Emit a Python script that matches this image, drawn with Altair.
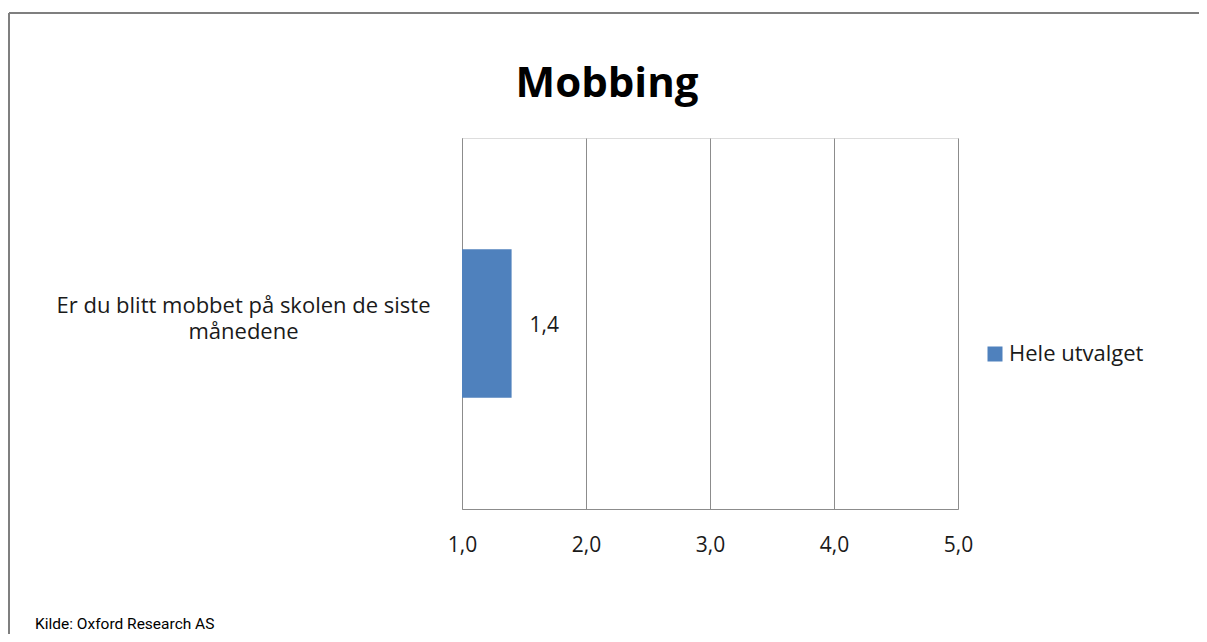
import altair as alt
import pandas as pd

categories = ["Er du blitt mobbet på skolen de siste månedene"]
series = ["Hele utvalget"]
values = [1.4]
x_ticks = [1.0, 2.0, 3.0, 4.0, 5.0]
title_text = "Mobbing"
source_text = "Kilde: Oxford Research AS"

df = pd.DataFrame({"category": categories, "series": series * len(categories), "value": values})

FONT = "Open Sans"
GRID = "#8c8c8c"
TXT = "#1a1a1a"

PAD_L, PAD_T, W, H = 454, 130, 496, 371
TOTAL_W, TOTAL_H = 1191, 626

base = alt.Chart(df)

bars = base.mark_bar().encode(
    x=alt.X(
        "value:Q",
        scale=alt.Scale(domain=[1, 5], zero=False, nice=False),
        axis=alt.Axis(
            values=x_ticks,
            title=None,
            grid=True,
            gridColor=GRID,
            gridWidth=1,
            domainColor=GRID,
            ticks=False,
            labelFlush=False,
            labelFont=FONT,
            labelFontSize=21,
            labelColor=TXT,
            labelPadding=25,
            labelExpr="replace(format(datum.value, '.1f'), '.', ',')",
        ),
    ),
    x2=alt.datum(1),
    y=alt.Y(
        "category:N",
        scale=alt.Scale(paddingInner=0.6, paddingOuter=0.3),
        axis=alt.Axis(
            title=None,
            ticks=False,
            tickSize=0,
            domainColor=GRID,
            labelFont=FONT,
            labelFontSize=22,
            labelColor=TXT,
            labelAlign="center",
            labelBaseline="middle",
            labelPadding=219,
            labelLineHeight=26,
            labelOffset=-18,
            labelLimit=500,
            labelExpr="split(replace(datum.label, ' siste ', ' siste|'), '|')",
        ),
    ),
    color=alt.Color(
        "series:N",
        scale=alt.Scale(range=["#4f81bd"]),
        legend=alt.Legend(
            title=None,
            orient="none",
            legendX=522,
            legendY=205,
            symbolType="square",
            symbolSize=225,
            symbolStrokeWidth=0,
            labelFont=FONT,
            labelFontSize=22,
            labelColor=TXT,
            labelOffset=3,
        ),
    ),
)

labels = base.transform_calculate(
    lbl="replace(format(datum.value, '.1f'), '.', ',')"
).mark_text(align="left", baseline="middle", dx=18, dy=2, font=FONT, fontSize=21, color=TXT).encode(
    x="value:Q",
    y="category:N",
    text="lbl:N",
)

title = base.mark_text(
    align="center", baseline="alphabetic", font=FONT, fontSize=42, fontWeight="bold", color="#000000"
).encode(
    x=alt.value(607 - 462),
    y=alt.value(97 - 138),
    text=alt.value(title_text),
)

border_top = base.mark_rule(color="#7f7f7f", strokeWidth=2).encode(
    x=alt.value(-PAD_L + 1), x2=alt.value(TOTAL_W - PAD_L), y=alt.value(-PAD_T + 5)
)
border_left = base.mark_rule(color="#7f7f7f", strokeWidth=2).encode(
    x=alt.value(-PAD_L + 1), y=alt.value(-PAD_T + 5), y2=alt.value(TOTAL_H - PAD_T)
)

source = base.mark_text(
    align="left", baseline="alphabetic", font="Roboto", fontSize=15.5, color="#000000"
).encode(
    x=alt.value(-PAD_L + 27),
    y=alt.value(TOTAL_H - PAD_T - 5),
    text=alt.value(source_text),
)

chart = (
    alt.layer(border_top, border_left, bars, labels, title, source)
    .properties(
        width=W,
        height=H,
        autosize=alt.AutoSizeParams(type="none"),
        padding={"left": PAD_L, "top": PAD_T, "right": TOTAL_W - PAD_L - W, "bottom": TOTAL_H - PAD_T - H},
    )
    .configure_view(strokeWidth=0)
    .configure(background="white")
)

chart.save("out.html", embed_options={"renderer": "svg", "actions": False})
